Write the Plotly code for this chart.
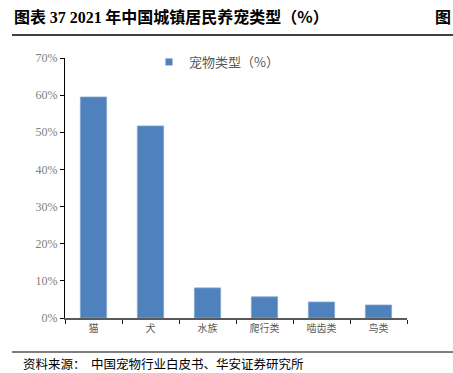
import plotly.graph_objects as go

categories = ["猫", "犬", "水族", "爬行类", "啮齿类", "鸟类"]
values = [59.5, 51.7, 8.1, 5.7, 4.3, 3.5]
series_name = "宠物类型（%）"
y_ticks = [0, 10, 20, 30, 40, 50, 60, 70]
y_tick_labels = [f"{v}%" for v in y_ticks]

L, R, T, B = 65, 46, 58, 55
W, H = 453, 373
pw, ph = W - L - R, H - T - B

def px(x):
    return (x - L) / pw

def py(y):
    return (H - B - y) / ph

fig = go.Figure()
fig.add_trace(go.Bar(
    x=categories, y=values, name=series_name, showlegend=False,
    marker=dict(color="#4f81bd", line=dict(color="#7fa3d3", width=0.8)),
    width=0.46,
))
# legend entry with a small square symbol
fig.add_trace(go.Scatter(
    x=[None], y=[None], mode="markers", name=series_name, showlegend=True,
    marker=dict(symbol="square", size=7, color="#4f81bd"),
))

fig.update_layout(
    width=W, height=H,
    margin=dict(l=L, r=R, t=T, b=B),
    paper_bgcolor="white", plot_bgcolor="white",
    showlegend=True,
    legend=dict(x=px(149), y=py(47), xanchor="left", yanchor="top",
                font=dict(family="Noto Sans CJK SC", size=13, color="#595959"),
                bgcolor="rgba(0,0,0,0)", itemwidth=30),
    xaxis=dict(
        showline=True, linecolor="#595959", linewidth=2,
        ticks="outside", ticklen=4, tickcolor="#222", tickwidth=1,
        tickson="boundaries", showgrid=False,
        tickfont=dict(family="Noto Sans CJK SC", size=10, color="#595959"),
    ),
    yaxis=dict(
        range=[0, 70], tickvals=y_ticks, ticktext=y_tick_labels,
        showline=True, linecolor="#000", linewidth=1.2,
        ticks="outside", ticklen=4, tickcolor="#000",
        showgrid=False, zeroline=False,
        tickfont=dict(family="Liberation Serif", size=12, color="#808080"),
    ),
    font=dict(family="Noto Sans CJK SC"),
)

fig.add_annotation(
    xref="paper", yref="paper", x=px(12), y=py(16), xanchor="left", yanchor="middle",
    text="<b>图表 <span style='font-family:Liberation Serif'>37 2021</span> 年中国城镇居民养宠类型（%）</b>",
    showarrow=False, font=dict(family="Noto Sans CJK SC", size=16, color="#000"),
)
fig.add_annotation(
    xref="paper", yref="paper", x=px(453), y=py(16), xanchor="right", yanchor="middle",
    text="<b>图</b>", showarrow=False,
    font=dict(family="Noto Sans CJK SC", size=16, color="#000"),
)
fig.add_annotation(
    xref="paper", yref="paper", x=px(22), y=py(363), xanchor="left", yanchor="middle",
    text="资料来源：  中国宠物行业白皮书、华安证券研究所", showarrow=False,
    font=dict(family="Noto Sans CJK SC", size=12.5, color="#000"), borderpad=0,
)
fig.add_shape(type="line", xref="paper", yref="paper",
              x0=px(12), x1=px(453), y0=py(35), y1=py(35),
              line=dict(color="#000", width=1.5))
fig.add_shape(type="line", xref="paper", yref="paper",
              x0=px(12), x1=px(453), y0=py(352), y1=py(352),
              line=dict(color="#000", width=1))

fig.write_html("out.html")
